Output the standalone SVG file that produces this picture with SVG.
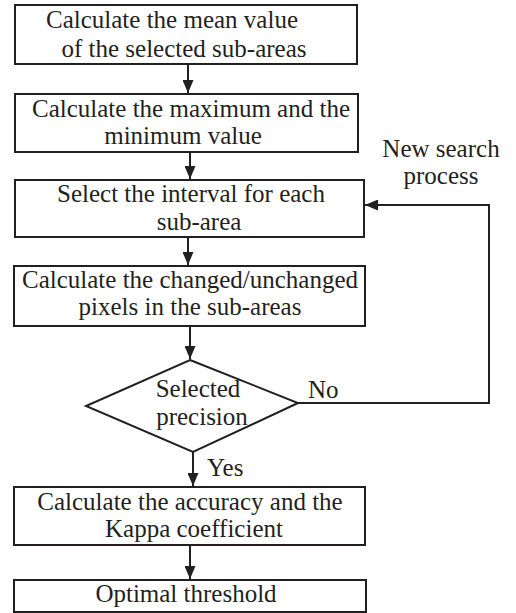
<svg xmlns="http://www.w3.org/2000/svg" width="516" height="613" viewBox="0 0 516 613">
<defs>
<style>
.box{fill:#fff;stroke:#231f20;stroke-width:2}
.ln{fill:none;stroke:#231f20;stroke-width:2}
text{font-family:"Liberation Serif","Times New Roman",serif;font-size:25px;fill:#231f20}
.m{text-anchor:middle}
</style>
<marker id="ah" viewBox="0 0 13 11" refX="13" refY="5.5" markerWidth="13" markerHeight="11" markerUnits="userSpaceOnUse" orient="auto">
<path d="M0,0 L13,5.5 L0,11 z" fill="#231f20"/>
</marker>
</defs>
<rect width="516" height="613" fill="#fff"/>
<g id="connectors">
<line class="ln" x1="188" y1="64" x2="188" y2="93" marker-end="url(#ah)"/>
<line class="ln" x1="190" y1="152" x2="190" y2="179" marker-end="url(#ah)"/>
<line class="ln" x1="188" y1="237" x2="188" y2="265" marker-end="url(#ah)"/>
<line class="ln" x1="190" y1="326" x2="190" y2="359" marker-end="url(#ah)"/>
<line class="ln" x1="193" y1="452" x2="193" y2="486" marker-end="url(#ah)"/>
<line class="ln" x1="190" y1="545" x2="190" y2="579" marker-end="url(#ah)"/>
<polyline class="ln" points="298,403 489,403 489,205 365,205" marker-end="url(#ah)"/>
<text x="308" y="398">No</text>
<text x="207" y="476">Yes</text>
<text class="m" x="441" y="157">New search</text>
<text class="m" x="441" y="184">process</text>
</g>
<g id="n1">
<rect class="box" x="15" y="5" width="342" height="59"/>
<text class="m" x="172" y="28">Calculate the mean value</text>
<text class="m" x="184" y="57">of the selected sub-areas</text>
</g>
<g id="n2">
<rect class="box" x="15" y="94" width="343" height="58"/>
<text class="m" x="191" y="117">Calculate the maximum and the</text>
<text class="m" x="183" y="144">minimum value</text>
</g>
<g id="n3">
<rect class="box" x="15" y="180" width="349" height="57"/>
<text class="m" x="191" y="202">Select the interval for each</text>
<text class="m" x="199" y="230">sub-area</text>
</g>
<g id="n4">
<rect class="box" x="14" y="266" width="351" height="60"/>
<text class="m" x="190" y="288">Calculate the changed/unchanged</text>
<text class="m" x="190" y="315">pixels in the sub-areas</text>
</g>
<g id="n5">
<polygon class="box" points="190,360 298,403 193,452 86,406"/>
<text class="m" x="198" y="397">Selected</text>
<text class="m" x="202" y="425">precision</text>
</g>
<g id="n6">
<rect class="box" x="14" y="487" width="351" height="58"/>
<text class="m" x="190" y="510">Calculate the accuracy and the</text>
<text class="m" x="194" y="537">Kappa coefficient</text>
</g>
<g id="n7">
<rect class="box" x="14" y="580" width="352" height="32"/>
<text class="m" x="186" y="602">Optimal threshold</text>
</g>
</svg>
